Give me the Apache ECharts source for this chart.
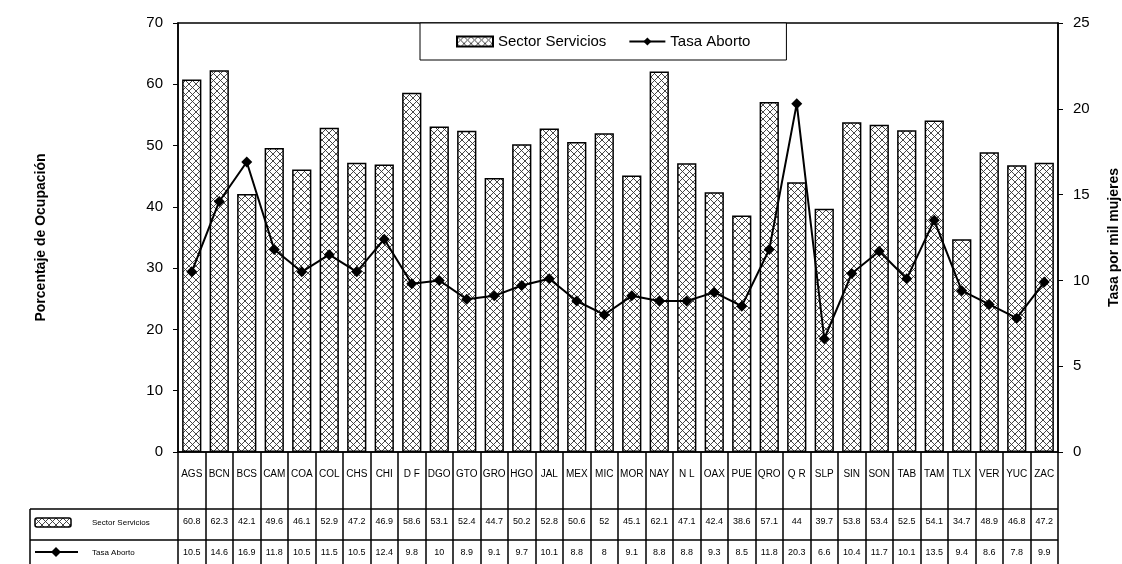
<!DOCTYPE html>
<html>
<head>
<meta charset="utf-8">
<script src="https://cdn.jsdelivr.net/npm/echarts@6/dist/echarts.min.js"></script>
<style>
  html, body { margin: 0; padding: 0; background: #fff; }
  #grafica { width: 1122px; height: 564px; }
</style>
</head>
<body>
<div id="grafica"></div>
<script>
var categorias = ['AGS', 'BCN', 'BCS', 'CAM', 'COA', 'COL', 'CHS', 'CHI', 'D F', 'DGO', 'GTO',
  'GRO', 'HGO', 'JAL', 'MEX', 'MIC', 'MOR', 'NAY', 'N L', 'OAX', 'PUE', 'QRO', 'Q R', 'SLP',
  'SIN', 'SON', 'TAB', 'TAM', 'TLX', 'VER', 'YUC', 'ZAC'];
var sectorServicios = [60.8, 62.3, 42.1, 49.6, 46.1, 52.9, 47.2, 46.9, 58.6, 53.1, 52.4,
  44.7, 50.2, 52.8, 50.6, 52, 45.1, 62.1, 47.1, 42.4, 38.6, 57.1, 44, 39.7,
  53.8, 53.4, 52.5, 54.1, 34.7, 48.9, 46.8, 47.2];
var tasaAborto = [10.5, 14.6, 16.9, 11.8, 10.5, 11.5, 10.5, 12.4, 9.8, 10, 8.9,
  9.1, 9.7, 10.1, 8.8, 8, 9.1, 8.8, 8.8, 9.3, 8.5, 11.8, 20.3, 6.6,
  10.4, 11.7, 10.1, 13.5, 9.4, 8.6, 7.8, 9.9];

var fuente = '"Liberation Sans", Arial, sans-serif';

// trama cruzada de las barras
var patron = document.createElement('canvas');
patron.width = 7;
patron.height = 7;
var ctx = patron.getContext('2d');
ctx.fillStyle = '#fff';
ctx.fillRect(0, 0, 7, 7);
ctx.strokeStyle = '#333';
ctx.lineWidth = 0.9;
ctx.beginPath();
ctx.moveTo(0, 0); ctx.lineTo(7, 7);
ctx.moveTo(7, 0); ctx.lineTo(0, 7);
ctx.stroke();
var relleno = { image: patron, repeat: 'repeat' };

var chart = echarts.init(document.getElementById('grafica'));

var option = {
  backgroundColor: '#fff',
  animation: false,
  textStyle: { fontFamily: fuente, color: '#000' },
  legend: {
    left: 420,
    top: 23,
    padding: [11, 36],
    itemGap: 22,
    itemWidth: 36,
    itemHeight: 10,
    backgroundColor: '#fff',
    borderColor: '#000',
    borderWidth: 1,
    textStyle: { fontSize: 15, color: '#000', fontFamily: fuente },
    data: [{ name: 'Sector Servicios', icon: 'rect' }, { name: 'Tasa Aborto' }]
  },
  grid: {
    left: 178,
    right: 64,
    top: 23,
    bottom: 112,
    outerBoundsMode: 'none',
    containLabel: false,
    show: true,
    borderColor: '#000',
    borderWidth: 1.5
  },
  xAxis: [
    {
      type: 'category',
      data: categorias,
      axisLine: { lineStyle: { color: '#000', width: 1.5 } },
      axisTick: { show: true, interval: 0, length: 112, lineStyle: { color: '#000', width: 1.5 } },
      axisLabel: { interval: 0, margin: 17, fontSize: 10, color: '#000', fontFamily: fuente }
    },
    {
      type: 'category',
      data: categorias,
      position: 'bottom',
      offset: 57,
      axisLine: { show: false },
      axisTick: { show: false },
      axisLabel: {
        interval: 0, margin: 8, fontSize: 9, color: '#000', fontFamily: fuente,
        formatter: function (v, i) { return sectorServicios[i]; }
      }
    },
    {
      type: 'category',
      data: categorias,
      position: 'bottom',
      offset: 88,
      axisLine: { show: false },
      axisTick: { show: false },
      axisLabel: {
        interval: 0, margin: 8, fontSize: 9, color: '#000', fontFamily: fuente,
        formatter: function (v, i) { return tasaAborto[i]; }
      }
    }
  ],
  yAxis: [
    {
      type: 'value',
      min: 0,
      max: 70,
      interval: 10,
      name: 'Porcentaje de Ocupación',
      nameLocation: 'middle',
      nameGap: 130,
      nameTextStyle: { fontSize: 14, fontWeight: 'bold', color: '#000', fontFamily: fuente },
      axisLine: { show: true, lineStyle: { color: '#000', width: 1.5 } },
      axisTick: { show: true, length: 5, lineStyle: { color: '#000' } },
      axisLabel: { fontSize: 15, color: '#000', margin: 15, fontFamily: fuente },
      splitLine: { show: false }
    },
    {
      type: 'value',
      min: 0,
      max: 25,
      interval: 5,
      name: 'Tasa por mil mujeres',
      nameLocation: 'middle',
      nameGap: 49,
      nameRotate: 90,
      nameTextStyle: { fontSize: 14, fontWeight: 'bold', color: '#000', fontFamily: fuente },
      axisLine: { show: true, lineStyle: { color: '#000', width: 1.5 } },
      axisTick: { show: true, length: 5, lineStyle: { color: '#000' } },
      axisLabel: { fontSize: 15, color: '#000', margin: 15, fontFamily: fuente },
      splitLine: { show: false }
    }
  ],
  series: [
    {
      name: 'Sector Servicios',
      type: 'bar',
      barWidth: '70%',
      yAxisIndex: 0,
      itemStyle: { color: relleno, borderColor: '#000', borderWidth: 1.5 },
      data: sectorServicios
    },
    {
      name: 'Tasa Aborto',
      type: 'line',
      yAxisIndex: 1,
      symbol: 'diamond',
      symbolSize: 11,
      itemStyle: { color: '#000' },
      lineStyle: { color: '#000', width: 2 },
      data: tasaAborto
    }
  ],
  graphic: [
    { type: 'line', shape: { x1: 30, y1: 509, x2: 1058, y2: 509 }, style: { stroke: '#000', lineWidth: 1.5 } },
    { type: 'line', shape: { x1: 30, y1: 540, x2: 1058, y2: 540 }, style: { stroke: '#000', lineWidth: 1.5 } },
    { type: 'line', shape: { x1: 30, y1: 509, x2: 30, y2: 564 }, style: { stroke: '#000', lineWidth: 1.5 } },
    { type: 'rect', shape: { x: 35, y: 518, width: 36, height: 9, r: 2 }, style: { fill: relleno, stroke: '#000', lineWidth: 1.5 } },
    { type: 'text', x: 92, y: 523, style: { text: 'Sector Servicios', fontSize: 8, fill: '#000', fontFamily: fuente, verticalAlign: 'middle' } },
    { type: 'line', shape: { x1: 35, y1: 552, x2: 78, y2: 552 }, style: { stroke: '#000', lineWidth: 2 } },
    { type: 'polygon', shape: { points: [[56, 547], [61, 552], [56, 557], [51, 552]] }, style: { fill: '#000' } },
    { type: 'text', x: 92, y: 553, style: { text: 'Tasa Aborto', fontSize: 8, fill: '#000', fontFamily: fuente, verticalAlign: 'middle' } }
  ]
};

chart.setOption(option);
</script>
</body>
</html>
